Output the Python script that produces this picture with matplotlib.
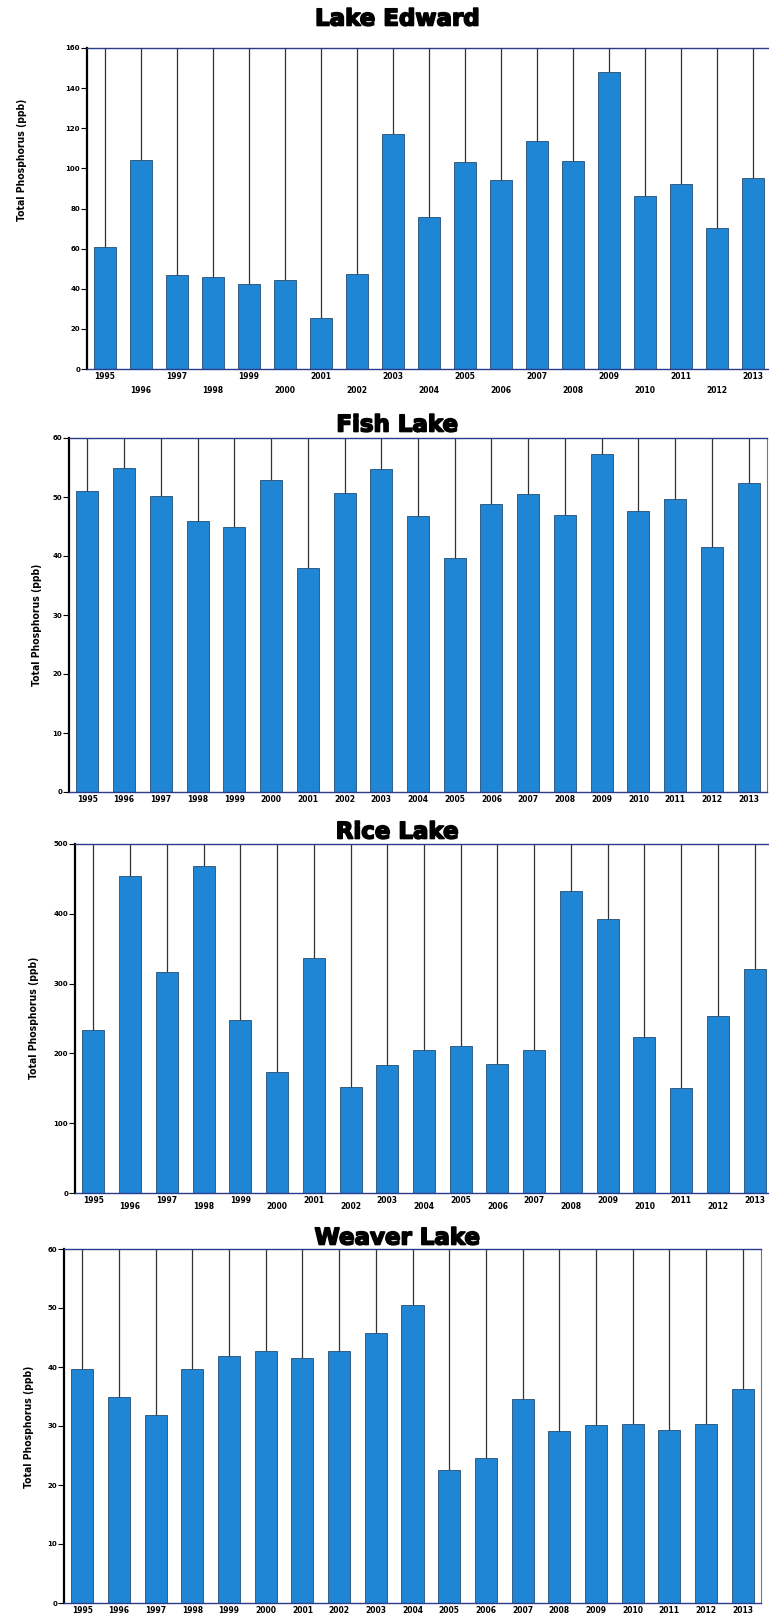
import matplotlib
matplotlib.use('Agg')
import matplotlib.pyplot as plt
import matplotlib.patheffects as pe
import numpy as np

years = list(range(1995, 2014))

edward = [61, 104, 47, 46, 42.5, 44.6, 25.6, 47.4, 117, 76, 103, 94, 113.4, 103.5, 148, 86.3, 92, 70.4, 95]
fish = [51, 55, 50.1, 45.9, 44.9, 52.8, 37.9, 50.7, 54.7, 46.8, 39.6, 48.8, 50.5, 46.9, 57.3, 47.7, 49.7, 41.5, 52.4]
rice = [234, 454, 317, 468, 248, 174, 337, 152, 184, 205, 211, 185, 205, 433, 392, 224, 150, 253, 321]
weaver = [39.7, 34.9, 31.8, 39.6, 41.8, 42.7, 41.6, 42.7, 45.7, 50.5, 22.6, 24.6, 34.5, 29.1, 30.1, 30.3, 29.3, 30.3, 36.3]

titles = ['Lake Edward', 'Fish Lake', 'Rice Lake', 'Weaver Lake']
ymax = [160, 60, 500, 60]
ystep = [20, 10, 100, 10]

W, H = 769, 1613
# left, top, bottom, right in pixels
boxes = [(87, 48, 369, 771), (69, 438, 792, 767), (75, 844, 1193, 773), (64, 1249, 1603, 761)]
title_y = [19, 425, 832, 1238]
ylab = [(22, 160), (37, 625), (34, 1018), (29, 1427)]
stagger = [14, 0, 6, 0]
bar_color = '#1f86d6'

fig = plt.figure(figsize=(W / 100, H / 100), dpi=100)

data = [edward, fish, rice, weaver]
for i in range(4):
    l, t, b, r = boxes[i]
    ax = fig.add_axes([l / W, 1 - b / H, (r - l) / W, (b - t) / H])
    x = np.arange(len(years))
    vals = data[i]
    # thin drop lines from bar top up to the frame
    ax.vlines(x, vals, ymax[i], color='#333333', lw=0.9, zorder=1)
    ax.bar(x, vals, width=0.6, color=bar_color, edgecolor='#10345a', linewidth=0.5, zorder=2)
    ax.set_xlim(-0.5, len(years) - 0.5)
    ax.set_ylim(0, ymax[i])
    ax.set_yticks(np.arange(0, ymax[i] + 1, ystep[i]))
    ax.tick_params(axis='y', labelsize=5, length=4, width=0.8, pad=1)
    ax.tick_params(axis='x', length=0, labelsize=5.5, pad=2)
    for lab in ax.get_yticklabels():
        lab.set_fontweight('bold')
    ax.set_xticks(x)
    ax.set_xticklabels([str(y) for y in years], fontweight='bold')
    if stagger[i]:
        for k, lab in enumerate(ax.get_xticklabels()):
            if k % 2 == 1:
                lab.set_y(-stagger[i] / (b - t))
    ax.spines['left'].set_linewidth(1.6)
    ax.spines['left'].set_color('black')
    ax.spines['top'].set_color('#2b3c8c')
    ax.spines['top'].set_linewidth(1.0)
    ax.spines['bottom'].set_color('#2b3c8c')
    ax.spines['bottom'].set_linewidth(1.0)
    ax.spines['right'].set_color('#777777')
    ax.spines['right'].set_linewidth(0.8)
    fig.text(397 / W, 1 - title_y[i] / H, titles[i], ha='center', va='center',
             fontsize=16.5, fontweight='heavy',
             path_effects=[pe.withStroke(linewidth=1.2, foreground='black')])
    fig.text(ylab[i][0] / W, 1 - ylab[i][1] / H, 'Total Phosphorus (ppb)', rotation=90,
             ha='center', va='center', fontsize=7.5, fontweight='bold',
             fontstretch='condensed')

fig.savefig('out.png', dpi=100)
